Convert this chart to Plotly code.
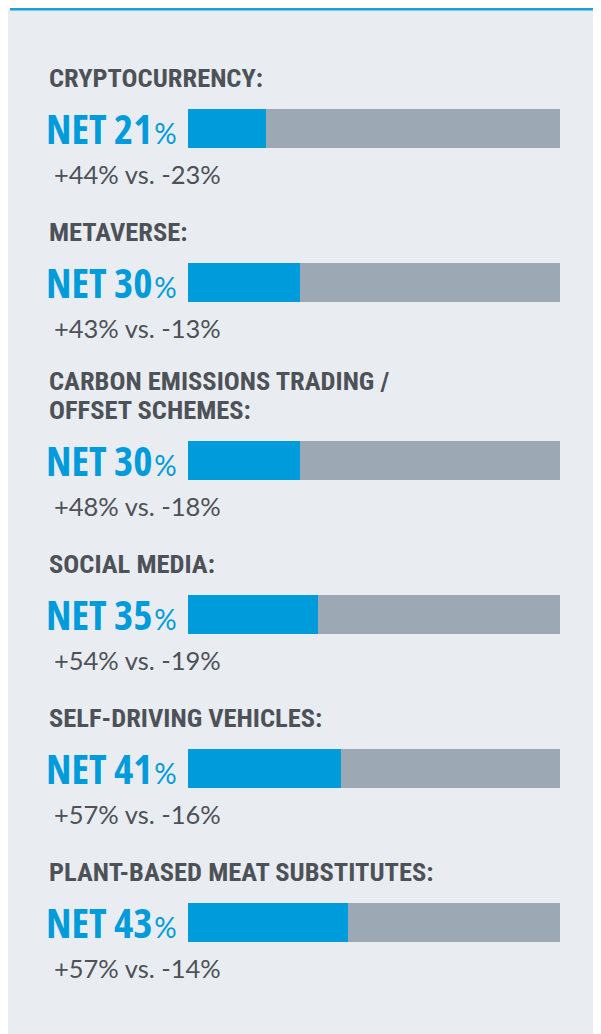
import plotly.graph_objects as go

# ---- data ----
topics = [
    "CRYPTOCURRENCY:",
    "METAVERSE:",
    "CARBON EMISSIONS TRADING /<br>OFFSET SCHEMES:",
    "SOCIAL MEDIA:",
    "SELF-DRIVING VEHICLES:",
    "PLANT-BASED MEAT SUBSTITUTES:",
]
net = [21, 30, 30, 35, 41, 43]
positive = [44, 43, 48, 54, 57, 57]
negative = [23, 13, 18, 19, 16, 14]

# ---- style / layout constants (figure pixels; page has an 8px body margin) ----
W, H = 593, 1026
BLUE = "#009bdb"
GREY_BAR = "#9ca8b4"
PANEL = "#e9edf1"
TEXT_DARK = "#4d5158"
FIRST_BAR = 120.5
ROW_STEP = 154
LINE_STEP = 29
BAR_THICK = 39
BAR_X0, BAR_X1 = 180, 552

# row centres derived from the number of title lines
centers = []
y = FIRST_BAR
for i, t in enumerate(topics):
    n_lines = len(t.split("<br>"))
    if i > 0:
        y += ROW_STEP + (n_lines - 1) * (LINE_STEP - 5)
    centers.append(y)

rest = [100 - v for v in net]

fig = go.Figure()
fig.add_trace(go.Bar(y=centers, x=net, orientation="h", marker=dict(color=BLUE, line=dict(width=0)),
                     width=BAR_THICK, hoverinfo="skip"))
fig.add_trace(go.Bar(y=centers, x=rest, orientation="h", marker=dict(color=GREY_BAR, line=dict(width=0)),
                     width=BAR_THICK, hoverinfo="skip"))

shapes = [
    dict(type="rect", xref="paper", yref="paper", x0=0, x1=1, y0=0, y1=1 - 2 / H,
         fillcolor=PANEL, line=dict(width=0), layer="below"),
    dict(type="rect", xref="paper", yref="paper", x0=2 / W, x1=1, y0=1 - 2.5 / H, y1=1,
         fillcolor="#1aa0dc", line=dict(width=0), layer="below"),
]

ann = []
for t, c, n, p, m in zip(topics, centers, net, positive, negative):
    lines = t.split("<br>")
    for k, line in enumerate(reversed(lines)):
        ann.append(dict(x=39 / W, xref="paper", y=c - 51 - k * LINE_STEP, yref="y",
                        text=line, showarrow=False, xanchor="left", yanchor="middle",
                        font=dict(family="Roboto Condensed", size=26.5, color=TEXT_DARK, weight="bold")))
    ann.append(dict(x=36 / W, xref="paper", y=c - 1, yref="y",
                    text=(f"<span style='font-stretch:condensed'>NET {n}</span>"
                          f"<span style='font-family:Lato;font-size:28px;font-weight:400'>&#8202;%</span>"),
                    showarrow=False, xanchor="left", yanchor="middle",
                    font=dict(family="Open Sans", size=41, color=BLUE, weight="bold")))
    ann.append(dict(x=44 / W, xref="paper", y=c + 45, yref="y",
                    text=f"+{p}% vs. -{m}%", showarrow=False, xanchor="left", yanchor="middle",
                    font=dict(family="Lato", size=25.5, color=TEXT_DARK)))

fig.update_layout(
    width=W, height=H, autosize=False,
    margin=dict(l=0, r=0, t=0, b=0, pad=0),
    paper_bgcolor="white", plot_bgcolor="rgba(0,0,0,0)",
    barmode="stack", bargap=0, showlegend=False,
    xaxis=dict(domain=[BAR_X0 / W, BAR_X1 / W], range=[0, 100], visible=False, fixedrange=True),
    yaxis=dict(domain=[0, 1], range=[H, 0], visible=False, fixedrange=True),
    shapes=shapes, annotations=ann,
)

fig.write_html("out.html", config={"displayModeBar": False})
